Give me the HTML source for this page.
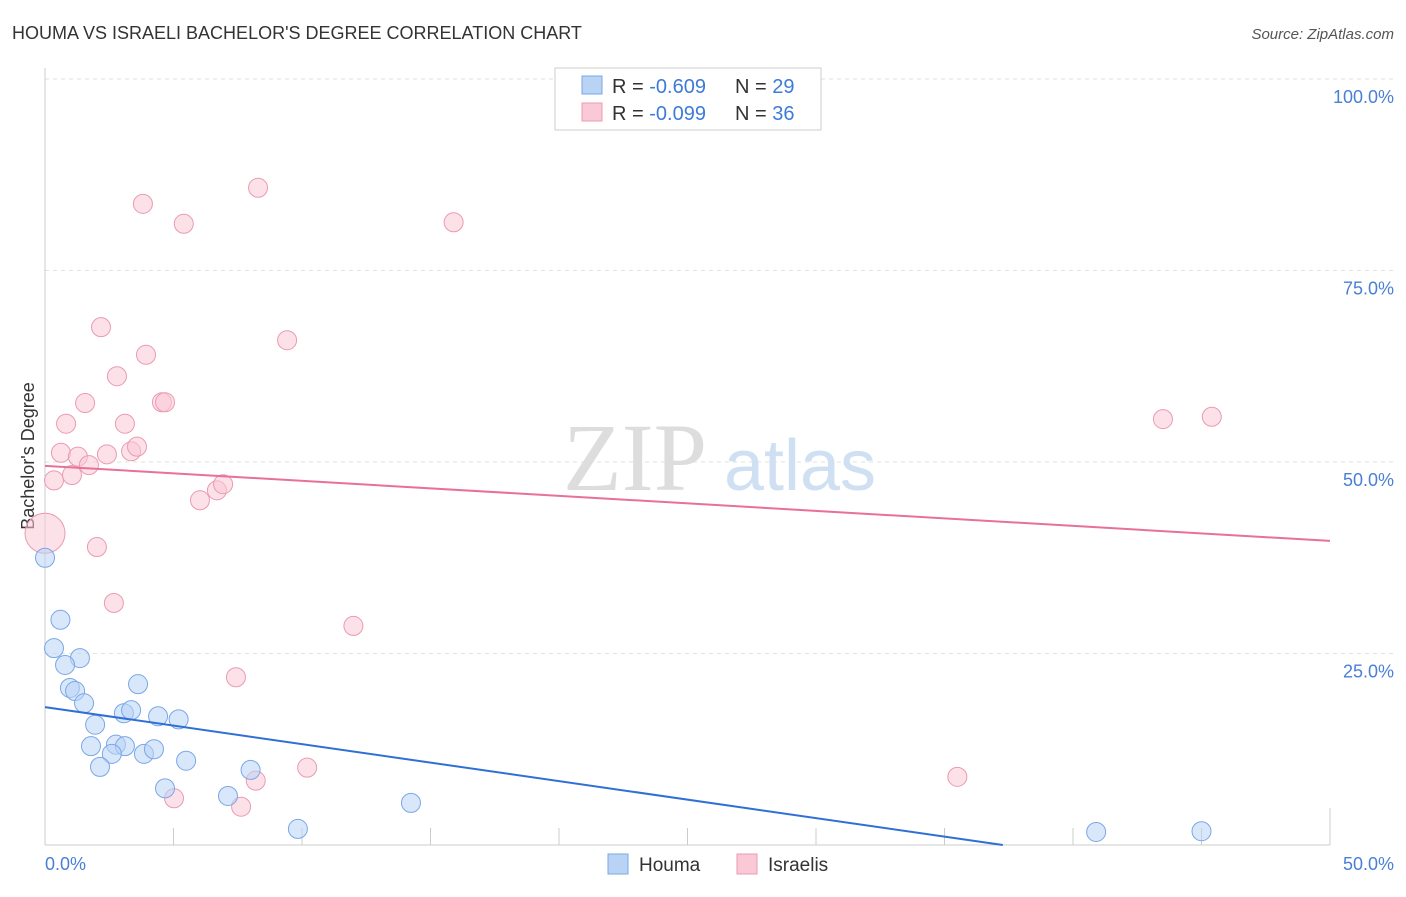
<!DOCTYPE html>
<html><head><meta charset="utf-8"><style>
body{margin:0;background:#fff;font-family:"Liberation Sans",sans-serif;}
</style></head><body>
<svg id="chart" width="1406" height="892" xmlns="http://www.w3.org/2000/svg" font-family="Liberation Sans, sans-serif">
<text x="12" y="39" font-size="18" fill="#333">HOUMA VS ISRAELI BACHELOR'S DEGREE CORRELATION CHART</text>
<text x="1394" y="39" font-size="15" fill="#555" font-style="italic" text-anchor="end">Source: ZipAtlas.com</text>
<g id="grid"></g>
<text x="635" y="490" font-size="96" fill="#ddd" font-family="Liberation Serif, serif" text-anchor="middle">ZIP</text>
<text x="800" y="490" font-size="72" fill="#cfe0f3" text-anchor="middle">atlas</text>
<line x1="45" y1="68" x2="45" y2="845" stroke="#ccc"/>
<line x1="45" y1="845" x2="1330" y2="845" stroke="#ccc"/>
<text transform="translate(34,456) rotate(-90)" font-size="18" fill="#333" text-anchor="middle">Bachelor's Degree</text>
<text x="45" y="870" font-size="18" fill="#4a7fd6">0.0%</text>
<text x="1394" y="870" font-size="18" fill="#4a7fd6" text-anchor="end">50.0%</text>
<g id="marks"></g>
<g>
<rect x="555" y="68" width="266" height="62" fill="#fff" stroke="#ccc"/>
<rect x="582" y="76" width="20" height="18" fill="#b9d3f5" stroke="#7aa7e6"/>
<rect x="582" y="103" width="20" height="18" fill="#f9c9d7" stroke="#eb9ab2"/>
<text x="612" y="93" font-size="20" fill="#333">R = <tspan fill="#3d7bd8">-0.609</tspan></text>
<text x="735" y="93" font-size="20" fill="#333">N = <tspan fill="#3d7bd8">29</tspan></text>
<text x="612" y="120" font-size="20" fill="#333">R = <tspan fill="#3d7bd8">-0.099</tspan></text>
<text x="735" y="120" font-size="20" fill="#333">N = <tspan fill="#3d7bd8">36</tspan></text>
</g>
<g>
<rect x="608" y="854" width="20" height="20" fill="#b9d3f5" stroke="#7aa7e6"/>
<text x="639" y="871" font-size="19" fill="#333">Houma</text>
<rect x="737" y="854" width="20" height="20" fill="#f9c9d7" stroke="#eb9ab2"/>
<text x="768" y="871" font-size="19" fill="#333">Israelis</text>
</g>
</svg>
<script>
const yTicks=[25,50,75,100];
const yTickLabels=["25.0%","50.0%","75.0%","100.0%"];
const xTicks=[0,5,10,15,20,25,30,35,40,45,50];
const houmaX=[0,0.6,0.35,1.36,0.78,0.97,1.17,1.52,3.62,3.07,3.35,4.4,5.2,1.95,1.79,2.76,3.11,2.6,3.85,4.24,2.14,5.49,8.0,4.67,7.12,14.24,9.84,40.9,45.0];
const houmaY=[37.5,29.4,25.7,24.4,23.5,20.5,20.1,18.5,21.0,17.2,17.6,16.8,16.4,15.7,12.9,13.1,12.9,11.9,11.9,12.5,10.2,11.0,9.8,7.4,6.4,5.5,2.1,1.7,1.8];
const israelisX=[0,0.35,0.62,0.82,1.56,1.05,1.28,1.71,2.18,2.8,3.81,3.93,3.11,2.41,3.35,3.58,4.55,4.67,5.4,8.29,9.42,15.9,2.02,2.68,6.03,6.69,6.93,12.0,7.43,10.2,8.2,5.02,7.63,35.5,43.5,45.4];
const israelisY=[40.7,47.6,51.2,55,57.7,48.3,50.7,49.6,67.6,61.2,83.7,64,55,51,51.4,52,57.8,57.8,81.1,85.8,65.9,81.3,38.9,31.6,45.0,46.3,47.1,28.6,21.9,10.1,8.4,6.1,5.0,8.9,55.6,55.9];
const houmaTrend=[18.0,-0.483];
const israelisTrend=[49.5,-0.196];
const X=v=>45+v*25.7, Y=v=>845-v*7.66;
const NS="http://www.w3.org/2000/svg";
const grid=document.getElementById('grid'), marks=document.getElementById('marks');
function mk(tag,attrs,parent){const e=document.createElementNS(NS,tag);for(const k in attrs)e.setAttribute(k,attrs[k]);parent.appendChild(e);return e;}
yTicks.forEach((t,i)=>{
 const l=mk('line',{x1:45,x2:1394,y1:Y(t),y2:Y(t),stroke:'#e2e2e2','stroke-dasharray':'4,4'},grid);
 
 
 const tx=mk('text',{x:1394,y:Y(t)+24,'font-size':18,fill:'#4a7fd6','text-anchor':'end'},grid);
 tx.textContent=yTickLabels[i];
 
 
});
xTicks.forEach(t=>{
 const l=mk('line',{x1:X(t),x2:X(t),y1:t==50?808:828,y2:845,stroke:'#ccc'},grid);
 
 
});
function pts(xs,ys,fill,stroke,name){
 xs.forEach((x,i)=>{
  const r=(x==0&&name=='israelis-point')?20:9.5;
  const c=mk('circle',{cx:X(x),cy:Y(ys[i]),r:r,fill:fill,'fill-opacity':0.55,stroke:stroke,'stroke-width':1},marks);
  
  
 });
}
pts(israelisX,israelisY,'#f9c9d7','#eb9ab2','israelis-point');
pts(houmaX,houmaY,'#b9d3f5','#7aa7e6','houma-point');
function trend(tr,x0,x1,col,name){
 const l=mk('line',{x1:X(x0),y1:Y(tr[0]+tr[1]*x0),x2:X(x1),y2:Y(tr[0]+tr[1]*x1),stroke:col,'stroke-width':2},marks);
 
 
}
trend(houmaTrend,0,Math.min(50,-houmaTrend[0]/houmaTrend[1]),'#2f6fd6','houma-trendline');
trend(israelisTrend,0,50,'#e8709a','israelis-trendline');
</script>
</body></html>
